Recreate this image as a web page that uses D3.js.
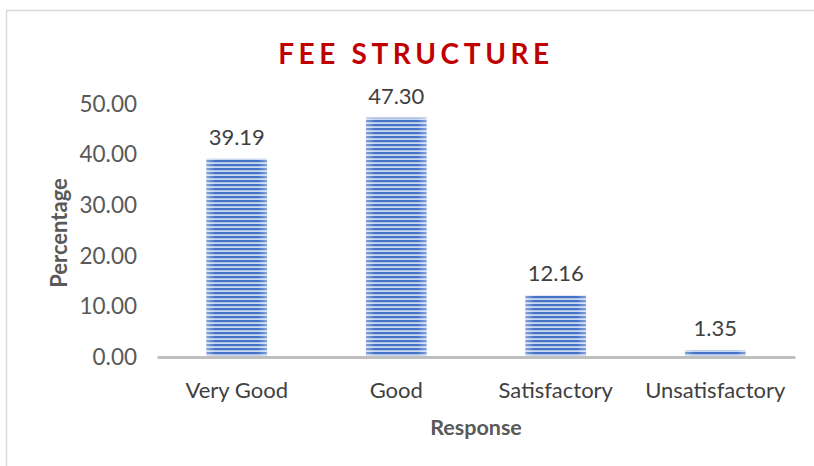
<!DOCTYPE html>
<html>
<head>
<meta charset="utf-8">
<script src="https://cdn.jsdelivr.net/npm/d3@7"></script>
<style>
  body { margin: 0; background: #fff; }
  text { font-family: Lato, "Open Sans", sans-serif; }
</style>
</head>
<body>
<svg id="chart" width="814" height="466"></svg>
<script>
// chart data
var categories = ["Very Good", "Good", "Satisfactory", "Unsatisfactory"];
var percentages = [39.19, 47.30, 12.16, 1.35];
var yTicks = [0, 10, 20, 30, 40, 50];
var chartTitle = "FEE STRUCTURE";

var svg = d3.select("#chart");
var margin = { left: 157, right: 19, top: 104, bottom: 109 };
var width = 814 - margin.left - margin.right;
var height = 466 - margin.top - margin.bottom;

// outer frame
svg.append("rect")
  .attr("x", 6.5).attr("y", 10.5)
  .attr("width", 820).attr("height", 470)
  .attr("fill", "none")
  .attr("stroke", "#d9d9d9")
  .attr("stroke-width", 1.5);

// striped fill for bars
var defs = svg.append("defs");
var pat = defs.append("pattern")
  .attr("id", "stripes")
  .attr("patternUnits", "userSpaceOnUse")
  .attr("width", 8).attr("height", 4);
pat.append("rect").attr("width", 8).attr("height", 4).attr("fill", "#c9d7f1");
pat.append("rect").attr("width", 8).attr("height", 2.2).attr("fill", "#4472c4");

var grad = defs.append("linearGradient").attr("id", "edgeShade");
grad.append("stop").attr("offset", "0%").attr("stop-color", "#fff").attr("stop-opacity", 0.35);
grad.append("stop").attr("offset", "15%").attr("stop-color", "#fff").attr("stop-opacity", 0);
grad.append("stop").attr("offset", "85%").attr("stop-color", "#fff").attr("stop-opacity", 0);
grad.append("stop").attr("offset", "100%").attr("stop-color", "#fff").attr("stop-opacity", 0.35);

var g = svg.append("g").attr("transform", "translate(" + margin.left + "," + margin.top + ")");

var x = d3.scaleBand().domain(categories).range([0, width]).paddingInner(0.62).paddingOuter(0.31);
var y = d3.scaleLinear().domain([0, 50]).range([height, 0]);

// y axis labels (no line)
var yAxis = d3.axisLeft(y).tickValues(yTicks).tickFormat(d3.format(".2f")).tickSize(0).tickPadding(20);
g.append("g").call(yAxis)
  .call(function (s) { s.select(".domain").remove(); })
  .selectAll("text")
  .style("font-size", "22.5px")
  .attr("fill", "#595959");

// bars
var bars = g.selectAll(".bar").data(percentages).enter();
bars.append("rect")
  .attr("x", function (d, i) { return x(categories[i]); })
  .attr("y", function (d) { return y(d); })
  .attr("width", x.bandwidth())
  .attr("height", function (d) { return height - y(d); })
  .attr("fill", "url(#stripes)");
bars.append("rect")
  .attr("x", function (d, i) { return x(categories[i]); })
  .attr("y", function (d) { return y(d); })
  .attr("width", x.bandwidth())
  .attr("height", function (d) { return height - y(d); })
  .attr("fill", "url(#edgeShade)");

// value labels
bars.append("text")
  .attr("x", function (d, i) { return x(categories[i]) + x.bandwidth() / 2; })
  .attr("y", function (d) { return y(d) - 14; })
  .attr("text-anchor", "middle")
  .style("font-size", "22px")
  .attr("fill", "#404040")
  .text(function (d) { return d.toFixed(2); });

// x axis
var xAxis = d3.axisBottom(x).tickSize(0).tickPadding(25);
g.append("g").attr("transform", "translate(0," + height + ")").call(xAxis)
  .call(function (s) {
    s.select(".domain").attr("stroke", "#bfbfbf").attr("stroke-width", 3);
  })
  .selectAll("text")
  .style("font-size", "22px")
  .attr("fill", "#404040");

// title
svg.append("text")
  .attr("x", 416).attr("y", 64)
  .attr("text-anchor", "middle")
  .style("font-size", "28px")
  .style("font-weight", "bold")
  .style("letter-spacing", "4.6px")
  .attr("fill", "#c00000")
  .text(chartTitle);

// axis titles
svg.append("text")
  .attr("x", 476).attr("y", 435)
  .attr("text-anchor", "middle")
  .style("font-size", "21.5px")
  .style("font-weight", "bold")
  .attr("fill", "#595959")
  .text("Response");

svg.append("text")
  .attr("transform", "translate(67,233) rotate(-90)")
  .attr("text-anchor", "middle")
  .style("font-size", "22px")
  .style("font-weight", "bold")
  .attr("fill", "#595959")
  .text("Percentage");
</script>
</body>
</html>
